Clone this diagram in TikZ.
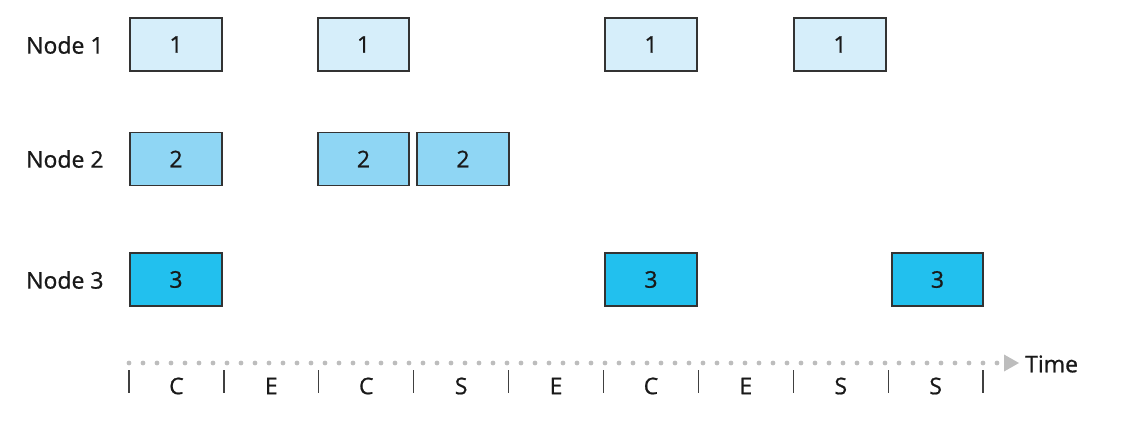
\documentclass[tikz,border=0pt]{standalone}
\usepackage{fontspec}
\setmainfont[FakeBold=0.8,BoldFont={Open Sans}]{Open Sans}
\definecolor{cA}{HTML}{D6EEFA}
\definecolor{cB}{HTML}{8FD6F4}
\definecolor{cC}{HTML}{22C0EE}
\definecolor{edge}{HTML}{333333}
\definecolor{dotc}{HTML}{BDBDBD}
\begin{document}
\begin{tikzpicture}[x=1pt,y=-1pt,
  every node/.style={font=\fontsize{23}{26}\selectfont\bfseries, text=black!90},
  slotbox/.style={draw=edge, line width=1.3pt, minimum height=53pt, inner sep=0pt},
  rowlabel/.style={anchor=west, inner sep=0pt},
  tick/.style={draw=black!75, line width=1.3pt},
  slotlabel/.style={inner sep=0pt}]
\useasboundingbox (0,0) rectangle (1122,430);
% row labels
\node[rowlabel] (l1) at (26,45) {Node 1};
\node[rowlabel] (l2) at (26,159) {Node 2};
\node[rowlabel] (l3) at (26,280) {Node 3};
% boxes
\foreach \a/\b/\n in {130/222/a1, 318/409/a2, 605/697/a3, 794/886/a4}{
  \node[slotbox, fill=cA, minimum width={\b-\a}] (\n) at ({(\a+\b)/2},44.5) {1};}
\foreach \a/\b/\n in {130/222/b1, 318/409/b2, 417/509/b3}{
  \node[slotbox, fill=cB, minimum width={\b-\a}] (\n) at ({(\a+\b)/2},159) {2};}
\foreach \a/\b/\n in {130/222/c1, 605/697/c2, 892/983/c3}{
  \node[slotbox, fill=cC, minimum width={\b-\a}] (\n) at ({(\a+\b)/2},279.5) {3};}
% time axis
\foreach \i in {0,...,62}{
  \fill[dotc] ({129+14*\i},363) circle (2.4);}
\fill[dotc] (1004,354.5) -- (1019,363) -- (1004,371.5) -- cycle;
\node[anchor=west, inner sep=0pt] (time) at (1025,364) {Time};
\foreach \i in {0,...,9}{
  \draw[tick] ({129+94.9*\i},370) -- ({129+94.9*\i},393);}
\foreach \l [count=\i from 0] in {C,E,C,S,E,C,E,S,S}{
  \node[slotlabel] (s\i) at ({129+94.9*\i+47.45},386) {\l};}
\end{tikzpicture}
\end{document}
